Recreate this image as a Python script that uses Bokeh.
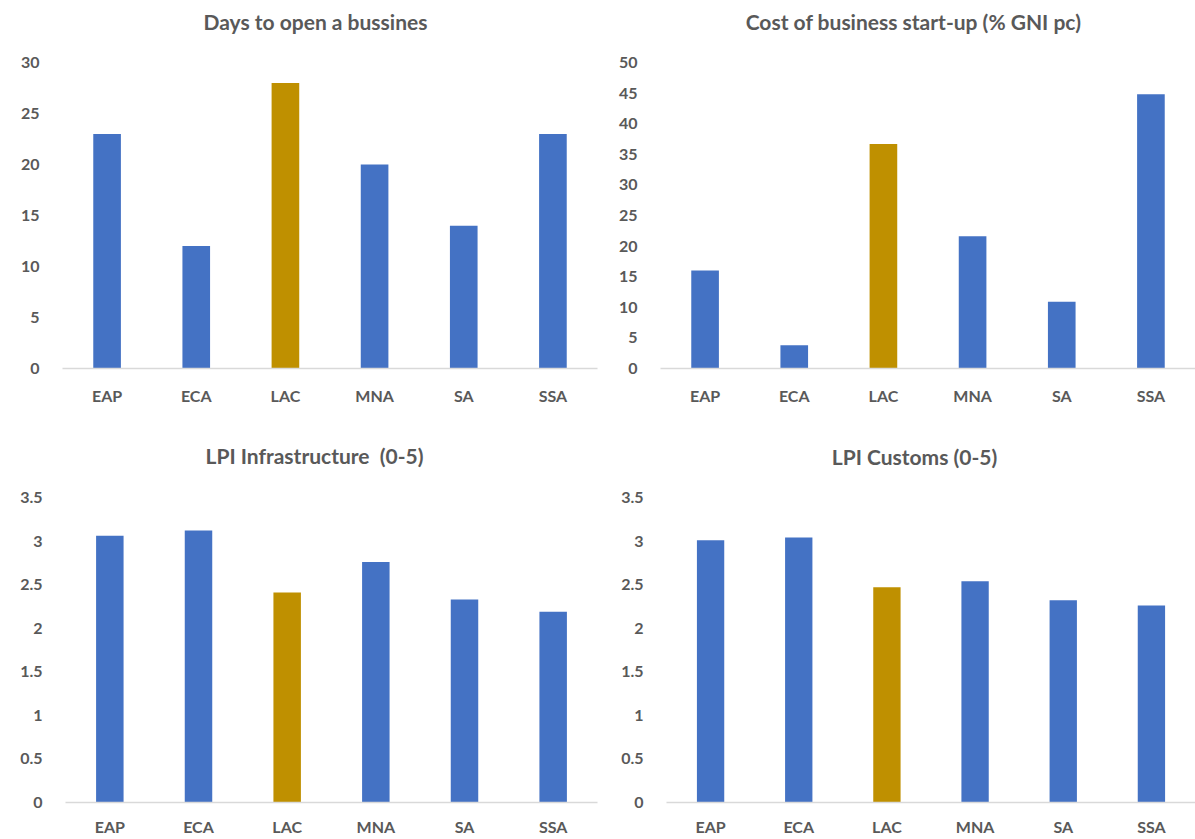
import numpy as np
from bokeh.plotting import figure
from bokeh.layouts import column, row
from bokeh.models import ColumnDataSource, FixedTicker, NumeralTickFormatter, Label
from bokeh.embed import file_html
from bokeh.resources import INLINE

# Regional comparison data
regions = ["EAP", "ECA", "LAC", "MNA", "SA", "SSA"]
days_to_open = [23, 12, 28, 20, 14, 23]
startup_cost = [16.0, 3.8, 36.7, 21.6, 10.9, 44.8]
lpi_infrastructure = [3.06, 3.12, 2.41, 2.76, 2.33, 2.19]
lpi_customs = [3.01, 3.04, 2.47, 2.54, 2.32, 2.26]

highlight = "LAC"
BAR_BLUE = "#4472C4"
BAR_GOLD = "#BF9000"
TEXT_GREY = "#595959"
AXIS_GREY = "#D9D9D9"
FONT = "Lato"


def panel(title, values, y_max, y_step, frame_w, frame_h, scale_h,
          left, right, bottom, title_x, title_y, label_standoff):
    """Bar panel whose frame reaches the top of the canvas; the value scale
    occupies the lowest `scale_h` pixels and the heading sits above it."""
    colors = [BAR_GOLD if r == highlight else BAR_BLUE for r in regions]
    src = ColumnDataSource(dict(region=regions, value=values, color=colors))
    y_end = y_max * frame_h / scale_h
    p = figure(x_range=regions, y_range=(0, y_end),
               frame_width=frame_w, frame_height=frame_h,
               min_border_left=left, min_border_right=right,
               min_border_top=0, min_border_bottom=bottom,
               output_backend="svg", toolbar_location=None,
               background_fill_color="white", border_fill_color="white")
    p.vbar(x="region", top="value", width=0.31, color="color",
           line_color=None, source=src)

    heading = Label(x=title_x, y=title_y, x_units="screen", y_units="screen",
                    text=title, text_align="center", text_baseline="middle",
                    text_font=FONT, text_font_style="bold",
                    text_font_size="21px", text_color=TEXT_GREY)
    p.add_layout(heading)

    p.outline_line_color = None
    p.xgrid.grid_line_color = None
    p.ygrid.grid_line_color = None

    ya = p.yaxis[0]
    ya.ticker = FixedTicker(ticks=list(np.arange(0, y_max + y_step / 2, y_step)))
    ya.formatter = NumeralTickFormatter(format="0.[0]")
    ya.axis_line_color = None
    ya.major_tick_line_color = None
    ya.minor_tick_line_color = None
    ya.major_label_standoff = 17

    xa = p.xaxis[0]
    xa.axis_line_color = AXIS_GREY
    xa.axis_line_width = 1.5
    xa.major_tick_line_color = None
    xa.minor_tick_line_color = None
    xa.major_label_standoff = label_standoff

    for ax in (ya, xa):
        ax.major_label_text_font = FONT
        ax.major_label_text_font_style = "bold"
        ax.major_label_text_font_size = "16px"
        ax.major_label_text_color = TEXT_GREY
    return p


p1 = panel("Days to open a bussines", days_to_open, 30, 5,
           535, 368, 306, 62, 3, 52, 253, 347, 11)
p2 = panel("Cost of business start-up (% GNI pc)", startup_cost, 50, 5,
           535, 368, 306, 60, 0, 52, 253, 347, 11)
p3 = panel("LPI Infrastructure\u00a0 (0-5)", lpi_infrastructure, 3.5, 0.5,
           532, 382, 305, 65, 3, 37, 249, 347, 8)
p4 = panel("LPI Customs (0-5)", lpi_customs, 3.5, 0.5,
           529, 382, 305, 66, 0, 37, 248, 346, 8)

layout = column(row(p1, p2), row(p3, p4))

open("out.html", "w").write(file_html(layout, INLINE))
